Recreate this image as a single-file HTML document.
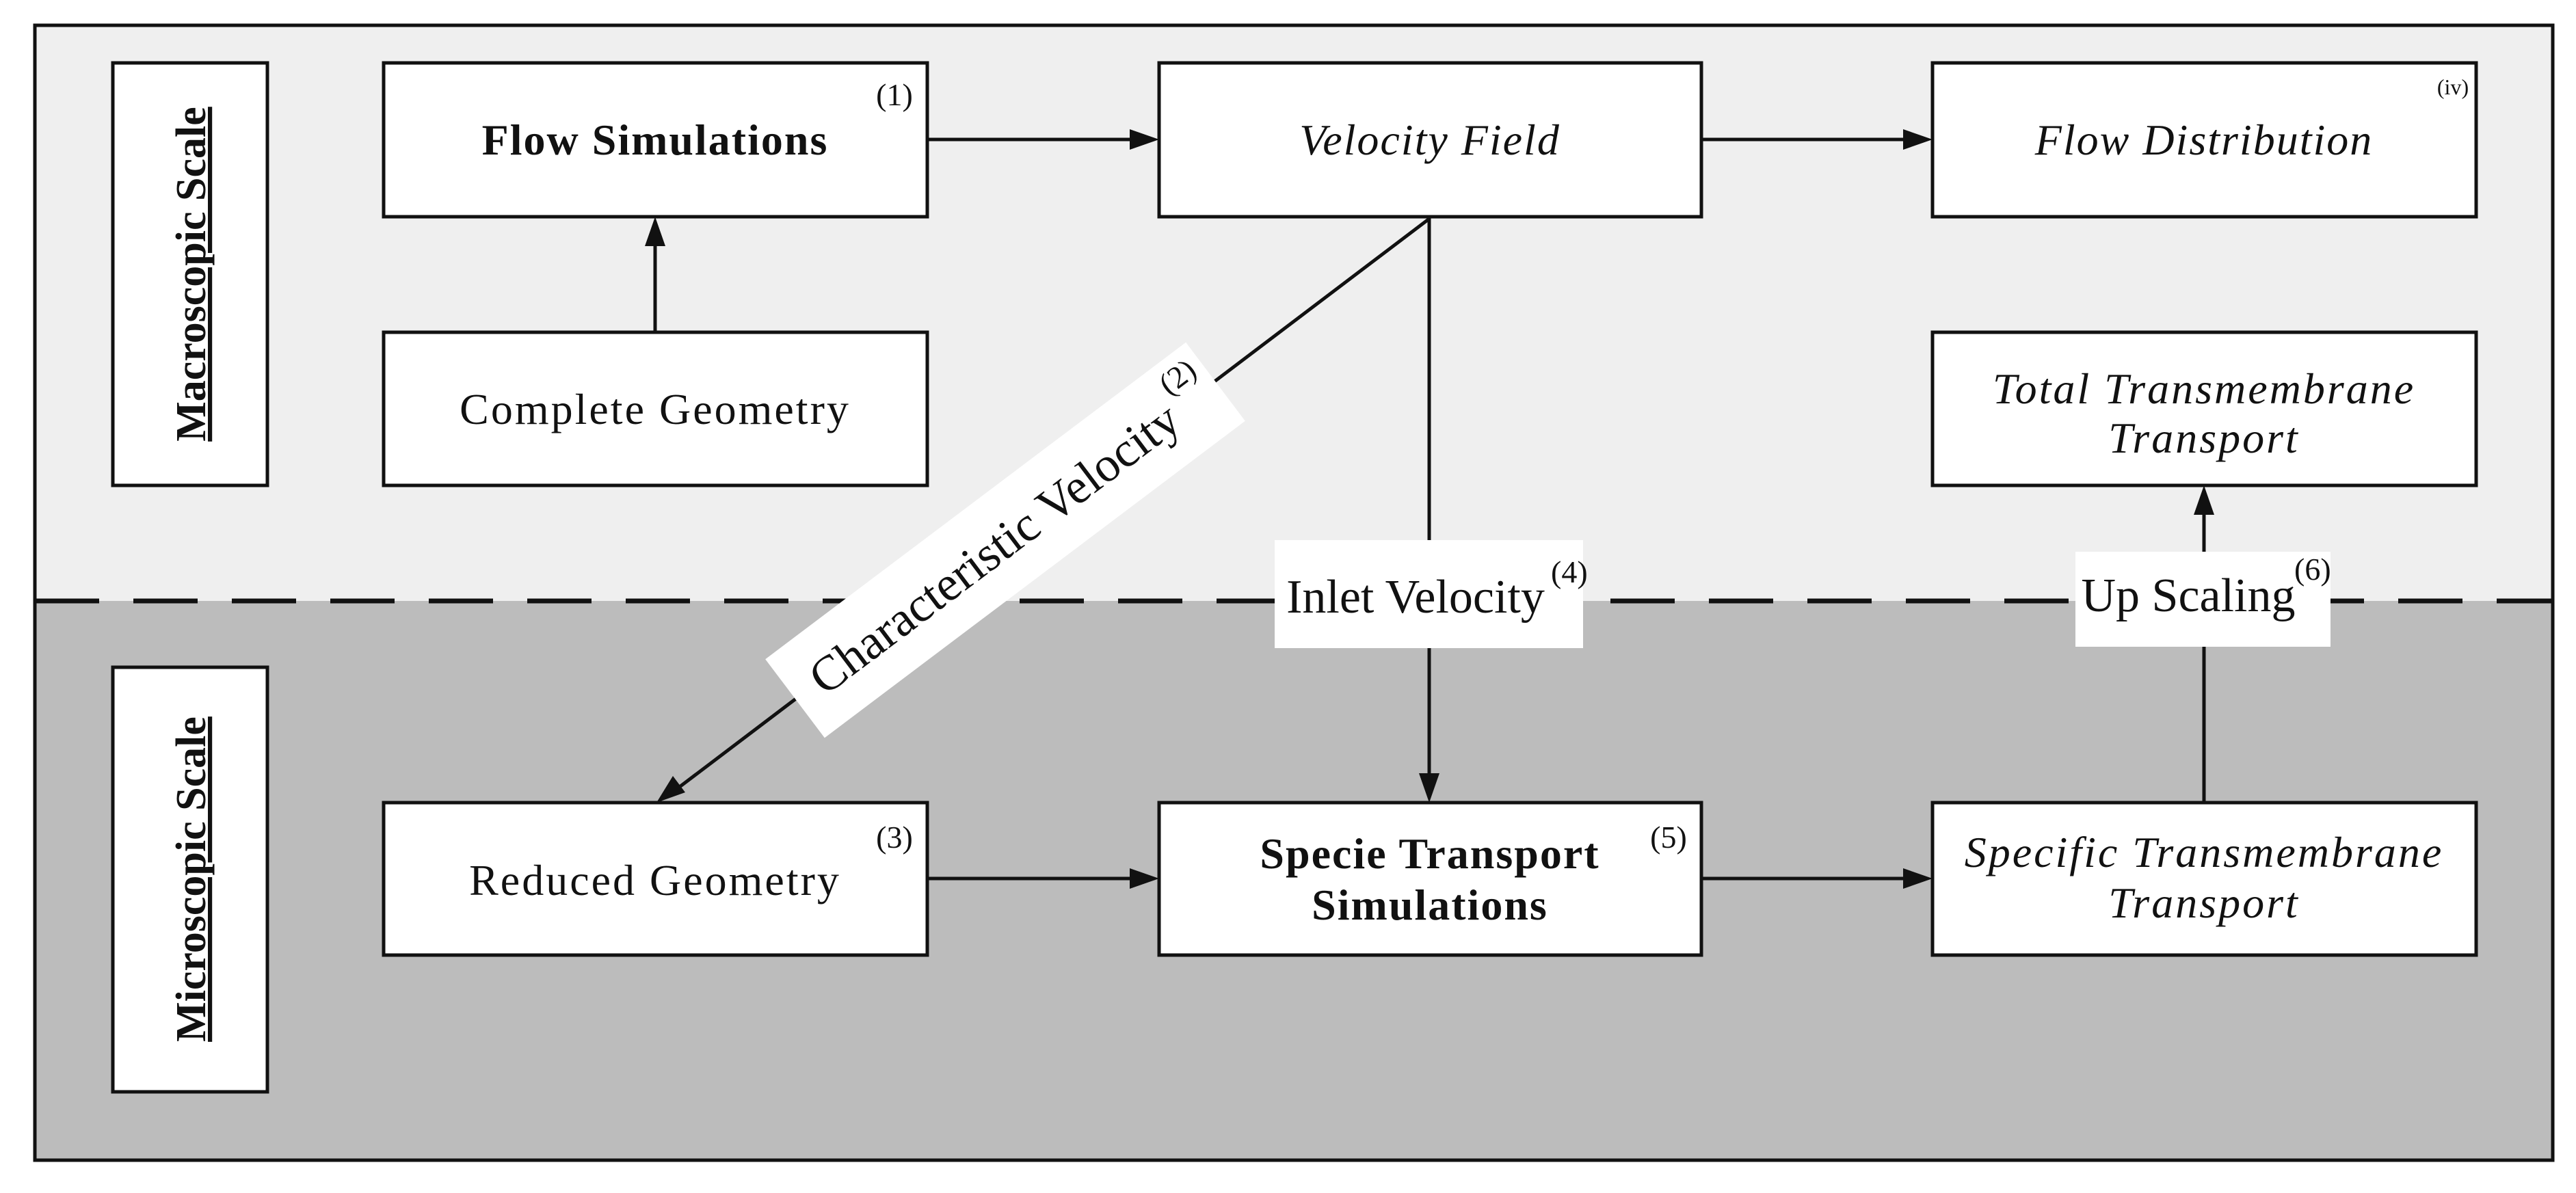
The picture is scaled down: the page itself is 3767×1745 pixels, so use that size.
<!DOCTYPE html>
<html><head><meta charset="utf-8"><style>
html,body{margin:0;padding:0;background:#fff;}
svg{display:block;}
text{font-family:"Liberation Serif",serif;fill:#111;}
</style></head><body>
<svg width="3767" height="1745" viewBox="0 0 3767 1745" xmlns="http://www.w3.org/2000/svg">
<!-- backgrounds -->
<rect x="51" y="37" width="3682" height="842" fill="#efefef"/>
<rect x="51" y="879" width="3682" height="818" fill="#bcbcbc"/>
<rect x="51" y="37" width="3682" height="1660" fill="none" stroke="#111" stroke-width="5"/>
<line x1="51" y1="879" x2="3733" y2="879" stroke="#111" stroke-width="7" stroke-dasharray="94 50"/>

<!-- connectors -->
<g stroke="#111" stroke-width="5" fill="none">
<line x1="1356" y1="204" x2="1655" y2="204"/>
<line x1="2488" y1="204" x2="2786" y2="204"/>
<line x1="958" y1="486" x2="958" y2="357"/>
<line x1="2090" y1="317" x2="2090" y2="1134"/>
<line x1="2090" y1="320" x2="995" y2="1150"/>
<line x1="1356" y1="1285" x2="1655" y2="1285"/>
<line x1="2488" y1="1285" x2="2786" y2="1285"/>
<line x1="3223" y1="1174" x2="3223" y2="750"/>
</g>
<g fill="#111">
<polygon points="1695,204 1652,189 1652,219"/>
<polygon points="2826,204 2783,189 2783,219"/>
<polygon points="958,317 943,360 973,360"/>
<polygon points="2090,1174 2075,1131 2105,1131"/>
<polygon points="960,1174 984,1135 1002,1159"/>
<polygon points="1695,1285 1652,1270 1652,1300"/>
<polygon points="2826,1285 2783,1270 2783,1300"/>
<polygon points="3223,710 3208,753 3238,753"/>
</g>

<!-- label boxes on connectors -->
<rect x="1864" y="790" width="451" height="158" fill="#fff"/>
<text x="2070" y="896" font-size="70" text-anchor="middle">Inlet Velocity</text>
<text x="2268" y="852" font-size="46">(4)</text>
<rect x="3035" y="807" width="373" height="139" fill="#fff"/>
<text x="3200" y="894" font-size="70" text-anchor="middle">Up Scaling</text>
<text x="3355" y="848" font-size="46">(6)</text>

<g transform="translate(1470,790) rotate(-37)">
<rect x="-385" y="-72" width="770" height="144" fill="#fff"/>
<text x="-20" y="24" font-size="72" text-anchor="middle">Characteristic Velocity</text>
<text x="318" y="-24" font-size="46">(2)</text>
</g>

<!-- scale labels -->
<rect x="165" y="92" width="226" height="618" fill="#fff" stroke="#111" stroke-width="5"/>
<text transform="translate(300,401) rotate(-90)" font-size="62" font-weight="bold" text-anchor="middle" text-decoration="underline">Macroscopic Scale</text>
<rect x="165" y="976" width="226" height="621" fill="#fff" stroke="#111" stroke-width="5"/>
<text transform="translate(300,1286) rotate(-90)" font-size="62" font-weight="bold" text-anchor="middle" text-decoration="underline">Microscopic Scale</text>

<!-- boxes -->
<g fill="#fff" stroke="#111" stroke-width="5">
<rect x="561" y="92" width="795" height="225"/>
<rect x="1695" y="92" width="793" height="225"/>
<rect x="2826" y="92" width="795" height="225"/>
<rect x="561" y="486" width="795" height="224"/>
<rect x="2826" y="486" width="795" height="224"/>
<rect x="561" y="1174" width="795" height="223"/>
<rect x="1695" y="1174" width="793" height="223"/>
<rect x="2826" y="1174" width="795" height="223"/>
</g>

<text x="958" y="226" font-size="64" font-weight="bold" text-anchor="middle" letter-spacing="2">Flow Simulations</text>
<text x="1308" y="154" font-size="46" text-anchor="middle">(1)</text>
<text x="2091" y="226" font-size="64" font-style="italic" text-anchor="middle" letter-spacing="2">Velocity Field</text>
<text x="3223" y="226" font-size="64" font-style="italic" text-anchor="middle" letter-spacing="2">Flow Distribution</text>
<text x="3587" y="138" font-size="32" text-anchor="middle">(iv)</text>
<text x="958" y="620" font-size="64" text-anchor="middle" letter-spacing="3">Complete Geometry</text>
<text x="3223" y="590" font-size="64" font-style="italic" text-anchor="middle" letter-spacing="3">Total Transmembrane</text>
<text x="3223" y="662" font-size="64" font-style="italic" text-anchor="middle" letter-spacing="3">Transport</text>
<text x="958" y="1309" font-size="64" text-anchor="middle" letter-spacing="3">Reduced Geometry</text>
<text x="1308" y="1240" font-size="46" text-anchor="middle">(3)</text>
<text x="2091" y="1270" font-size="64" font-weight="bold" text-anchor="middle" letter-spacing="2">Specie Transport</text>
<text x="2091" y="1345" font-size="64" font-weight="bold" text-anchor="middle" letter-spacing="2">Simulations</text>
<text x="2440" y="1240" font-size="46" text-anchor="middle">(5)</text>
<text x="3223" y="1268" font-size="64" font-style="italic" text-anchor="middle" letter-spacing="3">Specific Transmembrane</text>
<text x="3223" y="1342" font-size="64" font-style="italic" text-anchor="middle" letter-spacing="3">Transport</text>
</svg>
</body></html>
